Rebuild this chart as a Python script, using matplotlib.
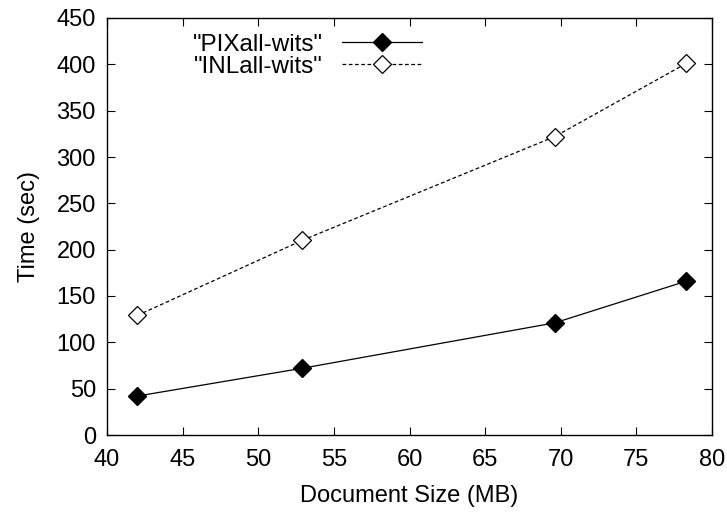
import matplotlib.pyplot as plt

plt.rcParams['font.family'] = 'Liberation Sans'
plt.rc('font', size=17)

# document sizes (MB) and times (sec)
doc_size = [42.0, 52.9, 69.6, 78.3]
pix_time = [42, 72, 121, 166]
inl_time = [129, 210, 322, 401]

fig = plt.figure(figsize=(7.27, 5.13), dpi=100)
ax = fig.add_axes([107/727, 78/513, 605/727, 417/513])

ax.plot(doc_size, pix_time, color='black', lw=0.9, marker='D', ms=9.5,
        mfc='black', mec='black', label='"PIXall-wits"')
ax.plot(doc_size, inl_time, color='black', lw=0.9, ls=(0, (3, 2)), marker='D', ms=9.5,
        mfc='white', mec='black', mew=0.9, label='"INLall-wits"')

ax.set_xlim(40, 80)
ax.set_ylim(0, 450)
ax.set_xticks(range(40, 81, 5))
ax.set_yticks(range(0, 451, 50))
ax.tick_params(direction='in', top=True, right=True, length=6, width=0.8, labelsize=17)
ax.tick_params(axis='x', pad=10)
ax.tick_params(axis='y', pad=8)
for s in ax.spines.values():
    s.set_linewidth(1.0)

ax.set_xlabel('Document Size (MB)', fontsize=17, labelpad=10)
ax.set_ylabel('Time (sec)', fontsize=17, labelpad=12)

ax.legend(loc='upper left', bbox_to_anchor=(0.105, 1.015), frameon=False, markerfirst=False,
          handlelength=3.3, fontsize=17.5, labelspacing=0.0, handletextpad=0.8)

fig.savefig('out.png')
